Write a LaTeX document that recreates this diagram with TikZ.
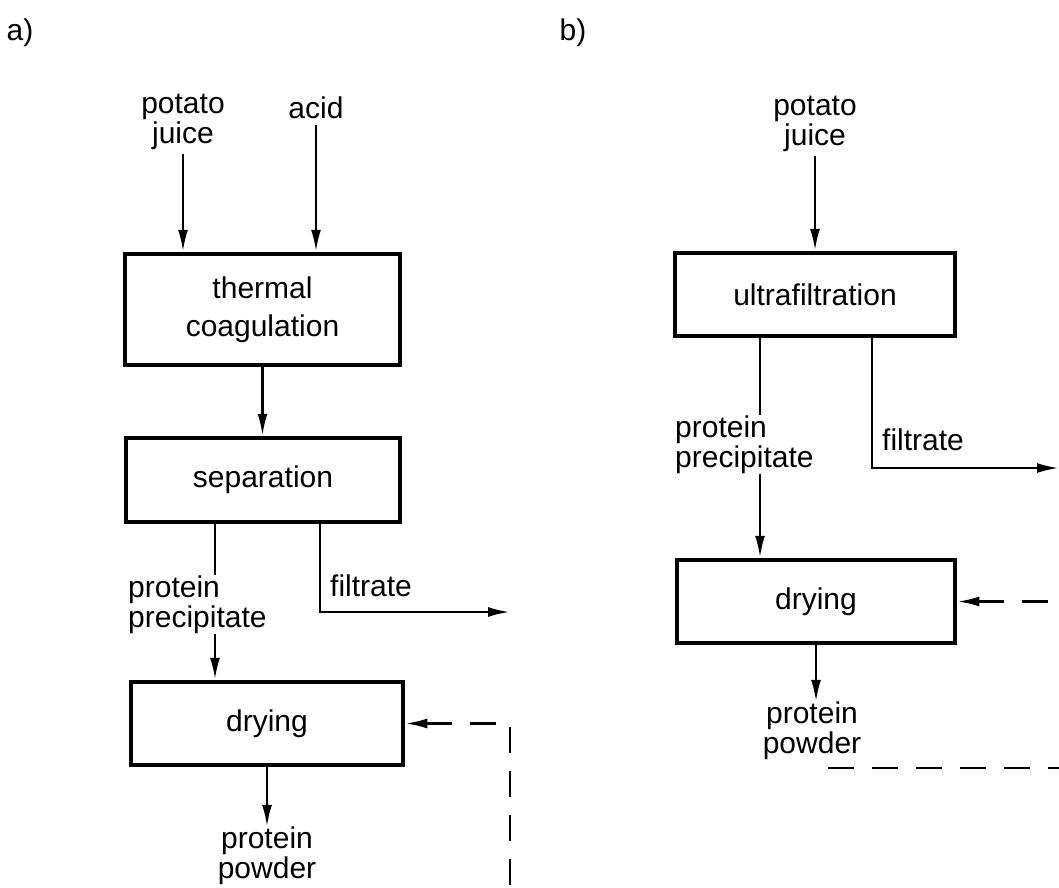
\documentclass[tikz,border=0pt]{standalone}
\usepackage{fontspec}
\setmainfont{Liberation Sans}
\usetikzlibrary{arrows.meta}

\begin{document}
\begin{tikzpicture}[
		x=1pt, y=-1pt,
		font=\fontsize{30}{30}\selectfont,
		unit/.style={
			draw, line width=4.5pt, inner sep=0pt, align=center
		},
		lbl/.style={inner sep=0pt, align=left},
		flow/.style={line width=2.6pt, -{Latex[length=22pt,width=10pt]}},
		pipe/.style={line width=2.6pt},
		recycle/.style={line width=2.6pt, dash pattern=on 26pt off 18pt},
		back/.style={recycle, {Latex[length=22pt,width=10pt]}-}
		]
		
		\useasboundingbox (0,0) rectangle (1059,887);
		
		% a) coagulation route
		\node[anchor=base] (taga) at (20,40) {a)};
		\node[lbl, align=center] (juicea) at (183,122) {potato\\juice};
		\node[anchor=base, inner sep=0pt] (acida) at (316,118) {acid};
		\node[unit, minimum width=275pt, minimum height=111pt] (thermal) at (262.5,309.5) {thermal\\[8pt]coagulation};
		\node[unit, minimum width=274pt, minimum height=84pt] (sepa) at (263,480) {separation};
		\node[lbl, anchor=west] (precipa) at (128,604.4) {protein\\precipitate};
		\node[anchor=base west, inner sep=0pt] (filta) at (330,596) {filtrate};
		\node[unit, minimum width=272pt, minimum height=83pt] (drya) at (267,723.5) {drying};
		\node[lbl, align=center] (powdera) at (267,856) {protein\\powder};
		\coordinate (outa) at (510,612);
		\coordinate (loopa) at (510,887);
		
		\draw[flow, shorten <=4pt] (juicea) -- (juicea |- thermal.north);
		\draw[flow, shorten <=7pt] (acida) -- (acida |- thermal.north);
		\draw[flow] (thermal.south) -- (thermal.south |- sepa.north);
		\draw[pipe] ([xshift=-48pt]sepa.south) -- ([xshift=-48pt]sepa.south |- precipa.north);
		\draw[flow] ([xshift=-48pt]sepa.south |- precipa.south) -- ([xshift=-48pt]sepa.south |- drya.north);
		\draw[flow] ([xshift=57pt]sepa.south) |- (outa);
		\draw[flow] (drya.south) -- (drya.south |- powdera.north);
		\draw[back] (drya.east) -| (loopa);
		
		% b) ultrafiltration route
		\node[anchor=base] (tagb) at (573,40) {b)};
		\node[lbl, align=center] (juiceb) at (815,124) {potato\\juice};
		\node[unit, minimum width=280pt, minimum height=83pt] (ultra) at (815,294.5) {ultrafiltration};
		\node[lbl, anchor=west] (precipb) at (675,444.4) {protein\\precipitate};
		\node[anchor=base west, inner sep=0pt] (filtb) at (882,450) {filtrate};
		\node[unit, minimum width=278pt, minimum height=83pt] (dryb) at (816,601.5) {drying};
		\node[lbl, align=center] (powderb) at (812,731) {protein\\powder};
		\coordinate (outb) at (1059,468);
		\coordinate (loopb) at (1059,602);
		\coordinate (recya) at (828,768);
		\coordinate (recyb) at (1059,768);
		
		\draw[flow, shorten <=4pt] (juiceb) -- (juiceb |- ultra.north);
		\draw[pipe] ([xshift=-55pt]ultra.south) -- ([xshift=-55pt]ultra.south |- precipb.north);
		\draw[flow] ([xshift=-55pt]ultra.south |- precipb.south) -- ([xshift=-55pt]ultra.south |- dryb.north);
		\draw[flow] ([xshift=57pt]ultra.south) |- (outb);
		\draw[back] (dryb.east) -- (dryb.east -| loopb);
		\draw[flow] (dryb.south) -- (dryb.south |- powderb.north);
		\draw[recycle] (recya) -- (recyb);
		
	\end{tikzpicture}
\end{document}
